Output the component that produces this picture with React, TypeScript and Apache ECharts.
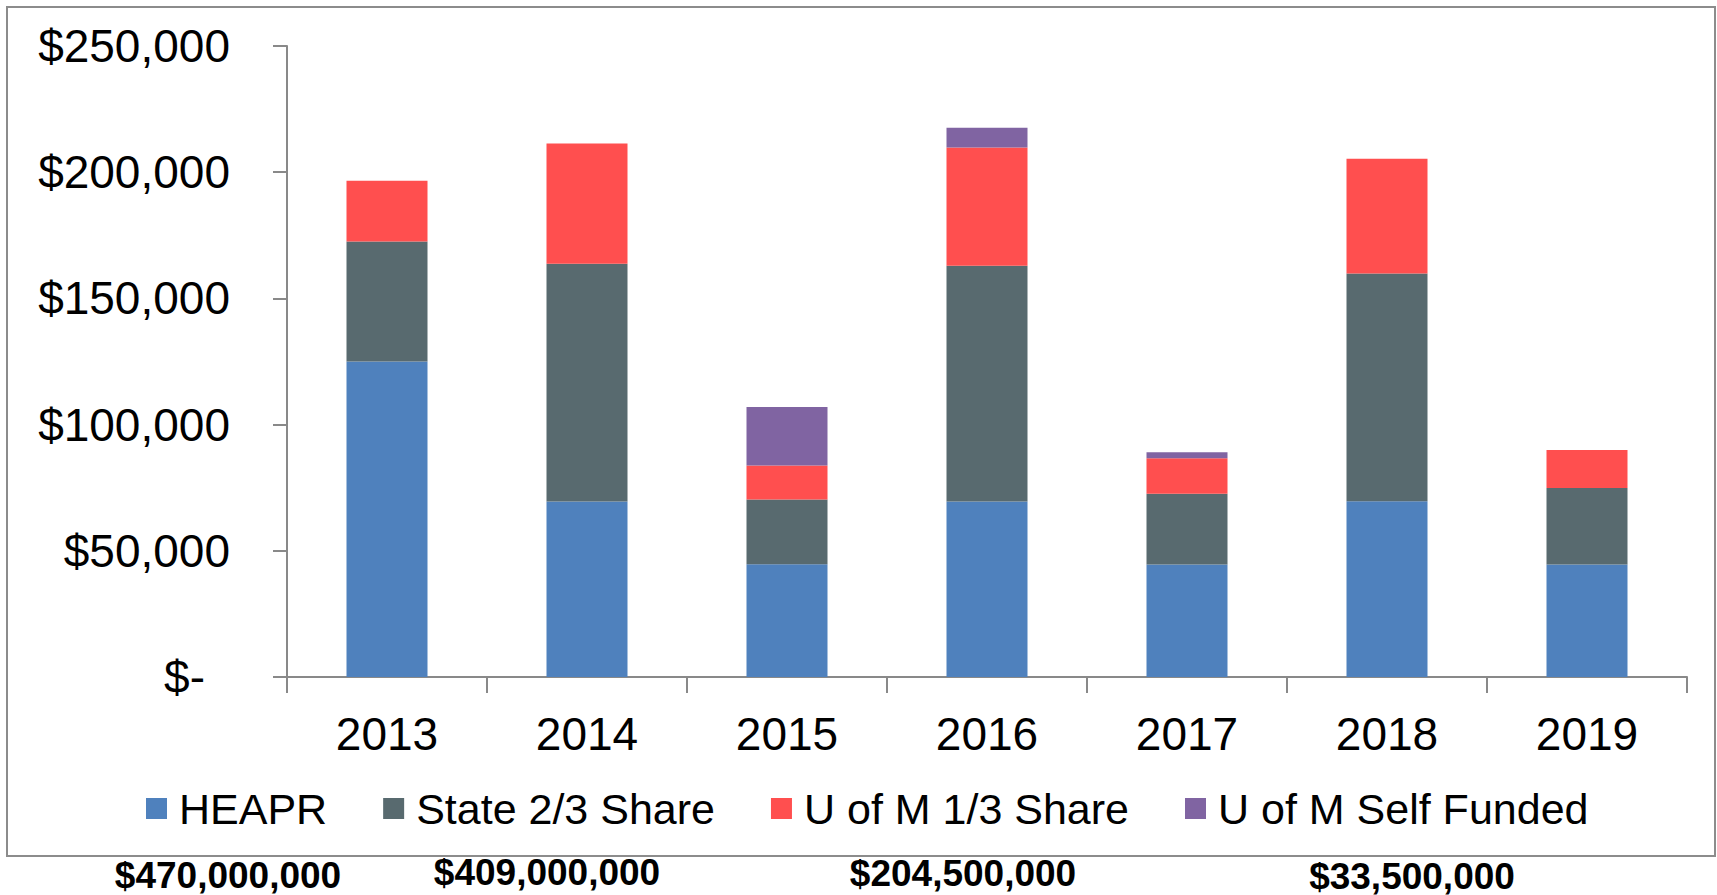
import React, { useEffect, useRef } from 'react';
import * as echarts from 'echarts';

const years = ['2013', '2014', '2015', '2016', '2017', '2018', '2019'];
const heapr = [125000, 69500, 44700, 69500, 44600, 69600, 44600];
const stateShare = [47500, 94200, 25600, 93400, 28000, 90300, 30300];
const uomShare = [24100, 47700, 13500, 46900, 14100, 45400, 15000];
const uomSelf = [0, 0, 23200, 7800, 2300, 0, 0];
const seriesNames = ['HEAPR', 'State 2/3 Share', 'U of M 1/3 Share', 'U of M Self Funded'];
const seriesColors = ['#4F81BD', '#586A6F', '#FF4F4F', '#8064A2'];
const yMax = 250000;
const yStep = 50000;
const footnotes = ['$470,000,000', '$409,000,000', '$204,500,000', '$33,500,000'];
const footnotePos = [
  [228, 875],
  [547, 872],
  [963, 873],
  [1412, 876],
];

const FONT = '"Liberation Sans", Arial, Helvetica, sans-serif';
const AXIS_GRAY = '#898989';

export default function App() {
  const ref = useRef<HTMLDivElement>(null);

  useEffect(() => {
    if (!ref.current) return;
    const chart = echarts.init(ref.current, undefined, { renderer: 'svg' });
    const values = [heapr, stateShare, uomShare, uomSelf];
    chart.setOption({
      animation: false,
      backgroundColor: '#ffffff',
      grid: { left: 287, right: 30, top: 46, bottom: 218, containLabel: false },
      legend: {
        data: seriesNames,
        left: 146,
        top: 787,
        padding: 0,
        icon: 'rect',
        itemWidth: 21,
        itemHeight: 21,
        itemGap: 56,
        textStyle: { fontSize: 43, color: '#000', fontFamily: FONT, padding: [0, 0, 0, 7] },
      },
      xAxis: {
        type: 'category',
        data: years,
        axisLine: { lineStyle: { color: AXIS_GRAY, width: 2 } },
        axisTick: { show: true, length: 16, lineStyle: { color: AXIS_GRAY, width: 2 } },
        axisLabel: { fontSize: 46, color: '#000', fontFamily: FONT, margin: 34 },
        splitLine: { show: false },
      },
      yAxis: {
        type: 'value',
        min: 0,
        max: yMax,
        interval: yStep,
        axisLine: { show: true, lineStyle: { color: AXIS_GRAY, width: 2 } },
        axisTick: { show: true, length: 14, lineStyle: { color: AXIS_GRAY, width: 2 } },
        splitLine: { show: false },
        axisLabel: {
          fontSize: 46,
          color: '#000',
          fontFamily: FONT,
          margin: 57,
          formatter: (v: number) => (v === 0 ? '{z|$-}' : '$' + v.toLocaleString('en-US')),
          rich: {
            z: { fontSize: 46, color: '#000', fontFamily: FONT, padding: [0, 25, 0, 0] },
          },
        },
      },
      series: seriesNames.map((name, i) => ({
        name,
        type: 'bar',
        stack: 'total',
        barWidth: 81,
        data: values[i],
        itemStyle: { color: seriesColors[i] },
      })),
      graphic: [
        {
          type: 'rect',
          shape: { x: 7, y: 7, width: 1708, height: 849 },
          style: { fill: 'none', stroke: '#8c8c8c', lineWidth: 2 },
          silent: true,
        },
        ...footnotes.map((t, i) => ({
          type: 'text',
          x: footnotePos[i][0],
          y: footnotePos[i][1],
          style: {
            text: t,
            fontSize: 37,
            fontWeight: 'bold',
            fontFamily: FONT,
            fill: '#000',
            textAlign: 'center',
            textVerticalAlign: 'middle',
          },
        })),
      ],
    });
    return () => chart.dispose();
  }, []);

  return (
    <div
      ref={ref}
      style={{ position: 'absolute', left: 0, top: 0, width: 1717, height: 895, background: '#fff' }}
    />
  );
}
